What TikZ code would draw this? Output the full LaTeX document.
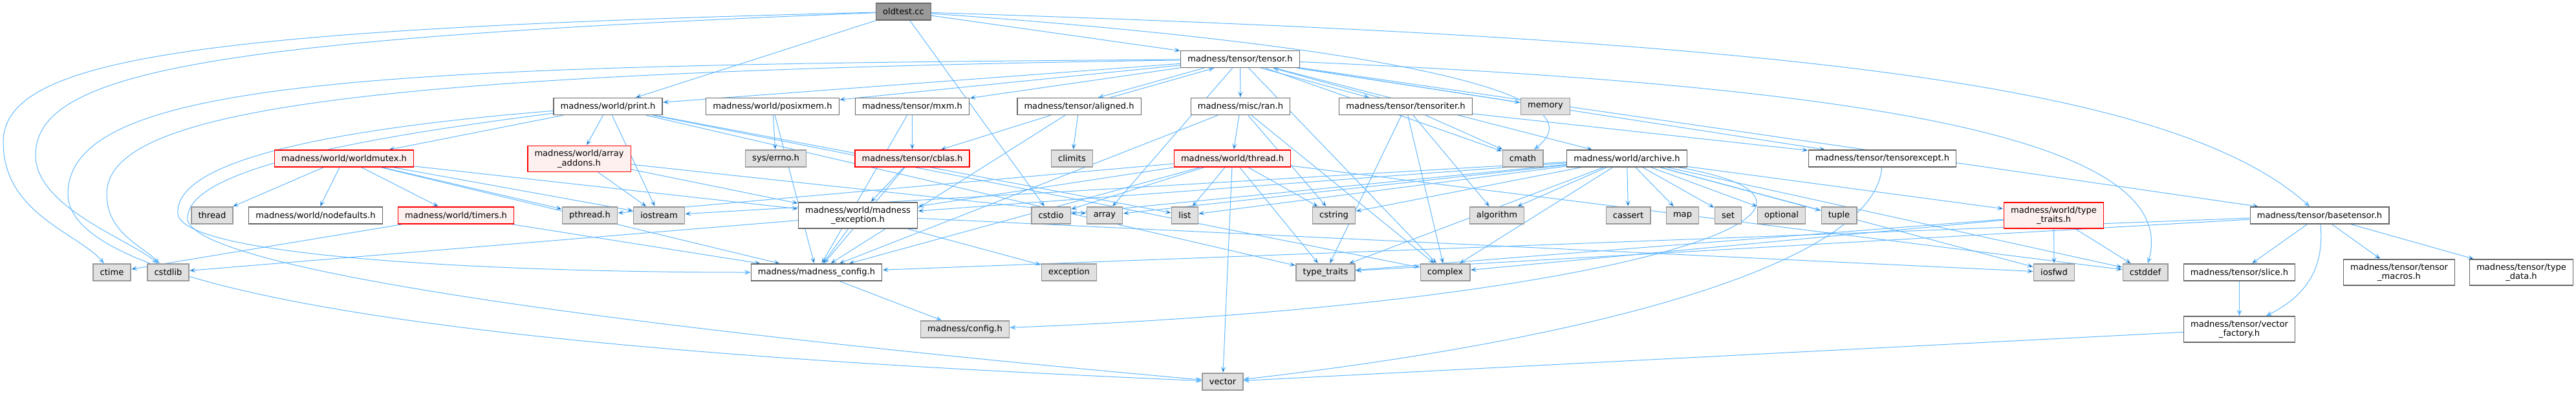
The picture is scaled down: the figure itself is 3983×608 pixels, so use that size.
\documentclass[tikz,border=0pt]{standalone}
\usepackage{fontspec}
\setmainfont{DejaVu Sans}
\usepackage{xcolor}
\usepackage{tikz}
\usetikzlibrary{arrows.meta,backgrounds}

\begin{document}
\begin{tikzpicture}[x=0.75pt, y=0.75pt,
    dep/.style={draw=edgeblue, line width=0.75pt,
      -{Stealth[length=7pt, width=5.5pt]}},
  ]
  % Colour definitions
  \definecolor{edgeblue}{HTML}{63B8FF}   % connectors
  \definecolor{stdfill}{HTML}{E0E0E0}    % system headers
  \definecolor{stdbdr}{HTML}{999999}
  \definecolor{redfill}{HTML}{FFF0F0}    % truncated headers
  \definecolor{redbdr}{HTML}{FF0000}
  \definecolor{hdrbdr}{HTML}{666666}
  \definecolor{rootfill}{HTML}{999999}

  \tikzstyle{hdr} = [draw=hdrbdr, fill=white, rectangle, minimum height=19.5pt,
    inner xsep=8pt, inner ysep=2pt, align=center,
    font=\fontsize{9.8}{11}\selectfont, line width=1pt]
  \tikzstyle{hdrtwo} = [hdr, minimum height=30pt]
  \tikzstyle{stdhdr} = [hdr, draw=stdbdr, fill=stdfill]
  \tikzstyle{redhdr} = [hdr, draw=redbdr, fill=redfill]
  \tikzstyle{redtwo} = [hdrtwo, draw=redbdr, fill=redfill]
  \tikzstyle{roothdr} = [hdr, fill=rootfill]

  \useasboundingbox (0,0) rectangle (3983,-608);

  % Top
  \node[roothdr] (oldtest) at (1397,-18) {oldtest.cc};
  \node[hdr] (tensor) at (1917.5,-91.5) {madness/tensor/tensor.h};

  % Second row
  \node[hdr] (print) at (940,-164.5) {madness/world/print.h};
  \node[hdr] (posixmem) at (1194.5,-164.5) {madness/world/posixmem.h};
  \node[hdr] (mxm) at (1410.5,-164.5) {madness/tensor/mxm.h};
  \node[hdr] (aligned) at (1668.5,-164.5) {madness/tensor/aligned.h};
  \node[hdr] (ran) at (1918,-164.5) {madness/misc/ran.h};
  \node[hdr] (tensoriter) at (2173.5,-164.5) {madness/tensor/tensoriter.h};
  \node[stdhdr] (memory) at (2389.5,-164.5) {memory};

  % Third row
  \node[redhdr] (worldmutex) at (532,-245) {madness/world/worldmutex.h};
  \node[redtwo] (arrayaddons) at (895.5,-245.5) {madness/world/array\\\_addons.h};
  \node[stdhdr] (errno) at (1199.5,-245) {sys/errno.h};
  \node[redhdr] (cblas) at (1410.5,-245) {madness/tensor/cblas.h};
  \node[stdhdr] (climits) at (1657.5,-245) {climits};
  \node[redhdr] (thread) at (1905.5,-245) {madness/world/thread.h};
  \node[stdhdr] (cmath) at (2354.5,-245) {cmath};
  \node[hdr] (archive) at (2515.5,-245) {madness/world/archive.h};
  \node[hdr] (tensorexcept) at (2910.5,-245) {madness/tensor/tensorexcept.h};

  % Fourth row
  \node[stdhdr] (stdthread) at (328,-333) {thread};
  \node[hdr] (nodefaults) at (488,-333) {madness/world/nodefaults.h};
  \node[redhdr] (timers) at (705,-333) {madness/world/timers.h};
  \node[stdhdr] (pthread) at (912,-333) {pthread.h};
  \node[stdhdr] (iostream) at (1019,-333) {iostream};
  \node[hdrtwo] (mexception) at (1326.5,-333) {madness/world/madness\\\_exception.h};
  \node[stdhdr] (cstdio) at (1625,-333) {cstdio};
  \node[stdhdr] (array) at (1708,-333) {array};
  \node[stdhdr] (list) at (1832,-333) {list};
  \node[stdhdr] (cstring) at (2062.5,-333) {cstring};
  \node[stdhdr] (algorithm) at (2314.5,-333) {algorithm};
  \node[stdhdr] (cassert) at (2517.5,-333) {cassert};
  \node[stdhdr] (map) at (2601.5,-333) {map};
  \node[stdhdr] (set) at (2672,-333) {set};
  \node[stdhdr] (optional) at (2754.5,-333) {optional};
  \node[stdhdr] (tuple) at (2843.5,-333) {tuple};
  \node[redtwo] (wtypetraits) at (3175.5,-333) {madness/world/type\\\_traits.h};
  \node[hdr] (basetensor) at (3586.5,-333) {madness/tensor/basetensor.h};

  % Fifth row
  \node[stdhdr] (ctime) at (173,-421) {ctime};
  \node[stdhdr] (cstdlib) at (260,-421) {cstdlib};
  \node[hdr] (mconfig) at (1262.5,-421) {madness/madness\_config.h};
  \node[stdhdr] (exception) at (1653,-421) {exception};
  \node[stdhdr] (typetraits) at (2049.5,-421) {type\_traits};
  \node[stdhdr] (complex) at (2234.5,-421) {complex};
  \node[stdhdr] (iosfwd) at (3176,-421) {iosfwd};
  \node[stdhdr] (cstddef) at (3317,-421) {cstddef};
  \node[hdr] (slice) at (3462.5,-421) {madness/tensor/slice.h};
  \node[hdrtwo] (tensormacros) at (3709.5,-421) {madness/tensor/tensor\\\_macros.h};
  \node[hdrtwo] (typedata) at (3898.5,-421) {madness/tensor/type\\\_data.h};

  % Bottom rows
  \node[stdhdr] (config) at (1492,-509) {madness/config.h};
  \node[hdrtwo] (vectorfactory) at (3462.5,-509) {madness/tensor/vector\\\_factory.h};
  \node[stdhdr] (vector) at (1890.5,-590) {vector};

  \begin{scope}[on background layer]
  % oldtest.cc
  \draw[dep] (oldtest) edge (tensor) edge (print) edge (cstdio);
  \draw[dep] (oldtest) .. controls (300,-45) and (5,-90) .. (5,-220)
    .. controls (5,-330) and (120,-360) .. (ctime);
  \draw[dep] (oldtest) .. controls (330,-60) and (55,-110) .. (55,-240)
    .. controls (55,-320) and (200,-370) .. (cstdlib);
  \draw[dep] (oldtest) .. controls (2000,-60) and (2500,-130) .. (cmath);
  \draw[dep] (oldtest) .. controls (2700,-60) and (3350,-120) .. (basetensor);

  % tensor.h
  \draw[dep] (tensor) edge (print) edge (posixmem) edge (mxm) edge (ran)
    edge (memory) edge (cmath) edge (archive) edge (tensorexcept)
    edge (basetensor) edge (complex) edge (array);
  \draw[dep] ([xshift=-42pt]tensor.south) -- ([xshift=22pt]aligned.north);
  \draw[dep] ([xshift=36pt]aligned.north) -- ([xshift=-30pt]tensor.south);
  \draw[dep] ([xshift=24pt]tensor.south) -- ([xshift=-42pt]tensoriter.north);
  \draw[dep] ([xshift=-30pt]tensoriter.north) -- ([xshift=38pt]tensor.south);
  \draw[dep] (tensor) .. controls (600,-100) and (105,-120) .. (105,-300)
    .. controls (105,-500) and (1200,-560) .. (vector);
  \draw[dep] (tensor) .. controls (550,-112) and (165,-170) .. (165,-300)
    .. controls (165,-360) and (220,-380) .. (cstdlib);
  \draw[dep] (tensor) .. controls (2800,-130) and (3380,-200) .. (cstddef);

  % madness/world/print.h
  \draw[dep] (print) edge (worldmutex) edge (arrayaddons) edge (iostream)
    edge (complex) edge (list) edge (typetraits);
  \draw[dep] (print) .. controls (500,-200) and (270,-250) .. (275,-330)
    .. controls (280,-400) and (800,-421) .. (mconfig);
  \draw[dep] (print) .. controls (500,-220) and (285,-270) .. (290,-340)
    .. controls (310,-420) and (1000,-510) .. (vector);

  % second row
  \draw[dep] (posixmem) edge (errno) edge (mconfig);
  \draw[dep] (mxm) edge (cblas) edge (mconfig);
  \draw[dep] (aligned) edge (cblas) edge (climits) edge (mconfig);
  \draw[dep] (ran) edge (thread) edge (mconfig) edge (complex) edge (cstring);
  \draw[dep] (tensoriter) edge (cmath) edge (algorithm) edge (complex)
    edge (tensorexcept) edge (typetraits);

  % third row
  \draw[dep] (worldmutex) edge (stdthread) edge (nodefaults) edge (timers)
    edge (pthread) edge (iostream) edge (mexception) edge (mconfig);
  \draw[dep] (arrayaddons) edge (array) edge (iostream) edge (mexception);
  \draw[dep] (cblas) edge (mexception) edge (mconfig);
  \draw[dep] (thread) edge (mconfig) edge (cstdio) edge (cstring)
    edge (typetraits) edge (vector) edge (pthread) edge (mexception)
    edge (cstddef) edge (list);
  \draw[dep] (archive) edge (algorithm) edge (cassert) edge (map) edge (set)
    edge (optional) edge (tuple) edge (array) edge (cstdio) edge (cstring)
    edge (list) edge (iostream) edge (mexception) edge (complex)
    edge (typetraits) edge (wtypetraits) edge (cstddef) edge (iosfwd);
  \draw[dep] (archive) .. controls (2950,-320) and (2500,-470) .. (config);
  \draw[dep] (tensorexcept) .. controls (2900,-400) and (2500,-520) .. (vector);

  % fourth row
  \draw[dep] (timers) edge (ctime) edge (mconfig);
  \draw[dep] (mexception) edge (mconfig) edge (exception) edge (cstdlib)
    edge (iosfwd);
  \draw[dep] (wtypetraits) edge (iosfwd) edge (cstddef) edge (typetraits)
    edge (complex);
  \draw[dep] (basetensor) edge (slice) edge (tensormacros) edge (typedata)
    edge (mconfig) edge (typetraits);
  \draw[dep] (basetensor) .. controls (3595,-420) and (3560,-460) .. (vectorfactory);

  % bottom
  \draw[dep] (mconfig) -- (config);
  \draw[dep] (slice) -- (vectorfactory);
  \draw[dep] (vectorfactory) -- (vector);
  \end{scope}
\end{tikzpicture}
\end{document}
